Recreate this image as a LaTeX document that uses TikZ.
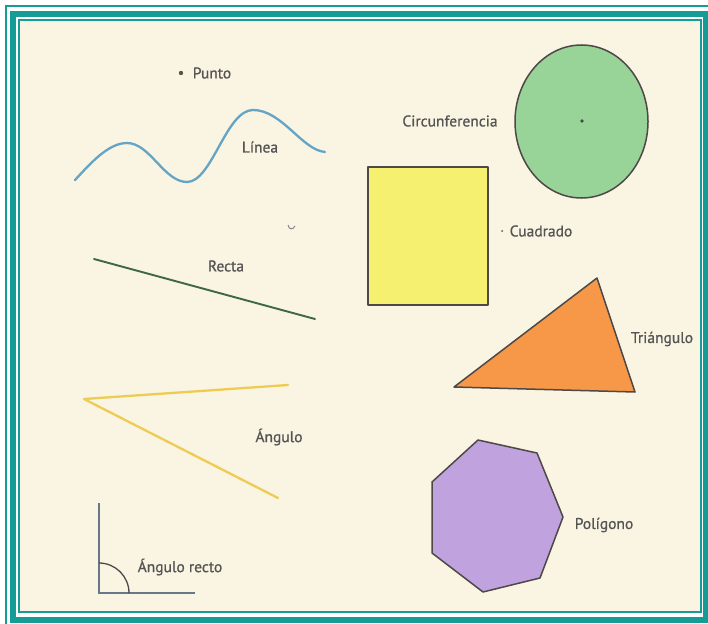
\documentclass[tikz,border=0pt]{standalone}
\usepackage{fontspec}
\setmainfont{PT Sans}
\newfontfamily\lblfont{PT Sans}[FakeBold=0.8]
\definecolor{frameteal}{RGB}{22,156,150}
\definecolor{cream}{RGB}{250,244,226}
\definecolor{txtgray}{RGB}{84,84,84}
\definecolor{waveblue}{RGB}{100,164,196}
\definecolor{rectagreen}{RGB}{62,102,72}
\definecolor{angyellow}{RGB}{238,204,84}
\definecolor{rightgray}{RGB}{104,120,138}
\definecolor{outl}{RGB}{78,72,72}
\definecolor{circgreen}{RGB}{152,212,152}
\definecolor{sqyellow}{RGB}{246,240,112}
\definecolor{triorange}{RGB}{246,152,72}
\definecolor{polyviolet}{RGB}{192,162,222}
\begin{document}
\begin{tikzpicture}[x=1pt,y=-1pt,
  lbl/.style={font=\lblfont\fontsize{15.5}{18}\selectfont, text=txtgray, inner sep=0pt},
  shapeline/.style={draw=outl, line width=1.5pt, line join=round}]
\useasboundingbox (0,0) rectangle (708,623);
\clip (0,0) rectangle (708,623);
% background and frame
\fill[white] (0,0) rectangle (708,623);
\fill[cream] (19,20) rectangle (701,612);
\draw[frameteal, line width=2.2pt] (6,6) rectangle (740,660);
\draw[frameteal, line width=6pt] (13,14) rectangle (706,620);
\draw[frameteal, line width=2.2pt] (19,20) rectangle (701,612);

% Punto
\coordinate (pdot) at (181,73);
\fill[txtgray] (pdot) circle (2.2pt);
\node[lbl] (punto) at (212,73) {Punto};

% Linea
\coordinate (w0) at (75,180);
\coordinate (w1) at (127,143);
\coordinate (w2) at (187,182);
\coordinate (w3) at (253,110);
\coordinate (w4) at (325,152);
\draw[waveblue, line width=2.3pt, line cap=round]
  (w0) .. controls (90,164) and (108,143) .. (w1)
       .. controls (150,143) and (164,182) .. (w2)
       .. controls (212,182) and (226,110) .. (w3)
       .. controls (282,110) and (302,150) .. (w4);
\node[lbl] (linea) at (260,147) {Línea};

% Recta
\coordinate (r0) at (94,259);
\coordinate (r1) at (315,319);
\draw[rectagreen, line width=1.9pt, line cap=round] (r0) -- (r1);
\node[lbl] (recta) at (226,266) {Recta};
\draw[txtgray!70, line width=1pt] (288,225) .. controls (289,230) and (293,230) .. (295,226);

% Angulo
\coordinate (av) at (84,399);
\coordinate (a1) at (288,385);
\coordinate (a2) at (278,498);
\draw[angyellow, line width=2.3pt, line cap=round, line join=round] (a1) -- (av) -- (a2);
\node[lbl] (angulo) at (279,437) {Ángulo};

% Angulo recto
\coordinate (rt) at (99,503);
\coordinate (rc) at (99,593);
\coordinate (rr) at (195,593);
\draw[rightgray, line width=1.8pt] (rt) -- (rc) -- (rr);
\draw[outl, line width=1.3pt] (99,563) .. controls (115.5,563) and (129,576.5) .. (129,593);
\node[lbl] (recto) at (180,567) {Ángulo recto};

% Circunferencia
\draw[shapeline, fill=circgreen] (581.5,121.5) ellipse [x radius=66.5, y radius=76.5];
\fill[outl] (582,121) circle (1.8pt);
\node[lbl] (circ) at (450,121) {Circunferencia};

% Cuadrado
\draw[shapeline, fill=sqyellow] (368,167) rectangle (488,305);
\fill[txtgray] (502,231) circle (1pt);
\node[lbl] (cuad) at (541,231) {Cuadrado};

% Triangulo
\draw[shapeline, fill=triorange] (454,387) -- (597,278) -- (635,392) -- cycle;
\node[lbl] (tri) at (662,339) {Triángulo};

% Poligono
\draw[shapeline, fill=polyviolet] (478,440) -- (537,453) -- (563,517) -- (540,578)
   -- (483,592) -- (432,553) -- (432,482) -- cycle;
\node[lbl] (poli) at (604,525) {Polígono};
\end{tikzpicture}
\end{document}
